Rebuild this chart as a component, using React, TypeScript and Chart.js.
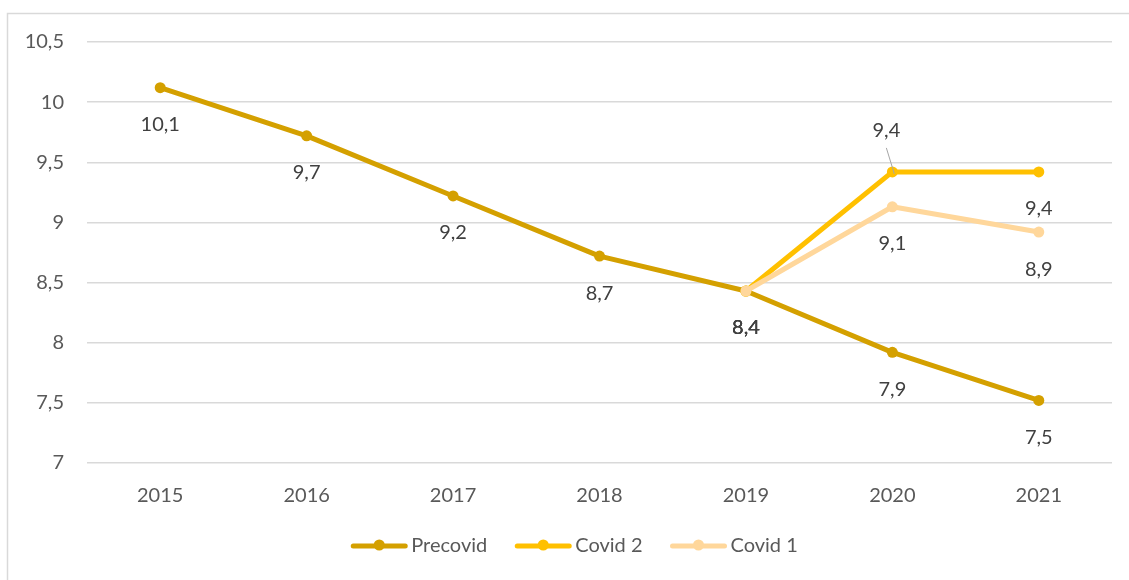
import React, { useEffect, useRef } from "react";
import { Chart, registerables } from "chart.js";

Chart.register(...registerables);

const years = ["2015", "2016", "2017", "2018", "2019", "2020", "2021"];
const precovid = [10.12, 9.72, 9.22, 8.72, 8.43, 7.92, 7.52];
const covid2 = [null, null, null, null, 8.43, 9.42, 9.42];
const covid1 = [null, null, null, null, 8.43, 9.13, 8.92];
const seriesNames = ["Precovid", "Covid 2", "Covid 1"];
const seriesColors = ["#D4A000", "#FFC000", "#FFD79B"];
// label placement per series per point: 1 = below, -1 = above
const labelSides = [
  [1, 1, 1, 1, 1, 1, 1],
  [1, 1, 1, 1, 1, -1, 1],
  [1, 1, 1, 1, 1, 1, 1],
];

const FONT = "Lato, 'Open Sans', sans-serif";
const FS = 20;

const framePlugin = {
  id: "frame",
  beforeDraw(chart: any) {
    const ctx = chart.ctx;
    ctx.save();
    ctx.fillStyle = "#ffffff";
    ctx.fillRect(0, 0, chart.width, chart.height);
    ctx.strokeStyle = "#D9D9D9";
    ctx.lineWidth = 1.5;
    ctx.beginPath();
    ctx.moveTo(7.5, chart.height);
    ctx.lineTo(7.5, 13.5);
    ctx.lineTo(chart.width, 13.5);
    ctx.stroke();
    ctx.restore();
  },
};

const labelPlugin = {
  id: "valueLabels",
  afterDatasetsDraw(chart: any) {
    const ctx = chart.ctx;
    ctx.save();
    ctx.font = `${FS}px ${FONT}`;
    ctx.fillStyle = "#404040";
    ctx.textAlign = "center";
    ctx.textBaseline = "middle";
    chart.data.datasets.forEach((ds: any, di: number) => {
      const meta = chart.getDatasetMeta(di);
      meta.data.forEach((pt: any, i: number) => {
        const v = ds.data[i];
        if (v === null || v === undefined) return;
        const txt = v.toFixed(1).replace(".", ",");
        const side = labelSides[di][i];
        if (side < 0) {
          const lx = pt.x - 6;
          const ly = pt.y - 41;
          ctx.fillText(txt, lx, ly);
          ctx.save();
          ctx.strokeStyle = "#A6A6A6";
          ctx.lineWidth = 1;
          ctx.beginPath();
          ctx.moveTo(lx, ly + 17);
          ctx.lineTo(pt.x + 2, pt.y + 2);
          ctx.stroke();
          ctx.restore();
        } else {
          ctx.fillText(txt, pt.x, pt.y + 37);
        }
      });
    });
    ctx.restore();
  },
};

const legendPlugin = {
  id: "customLegend",
  afterDraw(chart: any) {
    const ctx = chart.ctx;
    ctx.save();
    ctx.font = `${FS}px ${FONT}`;
    ctx.textBaseline = "middle";
    const symW = 56;
    const gapText = 4;
    const gapItem = 28;
    const widths = seriesNames.map((n) => ctx.measureText(n).width);
    let total = 0;
    widths.forEach((w, i) => {
      total += symW + gapText + w + (i < widths.length - 1 ? gapItem : 0);
    });
    let x = 574.5 - total / 2;
    const y = 546;
    seriesNames.forEach((n, i) => {
      ctx.strokeStyle = seriesColors[i];
      ctx.fillStyle = seriesColors[i];
      ctx.lineWidth = 5;
      ctx.lineCap = "round";
      ctx.beginPath();
      ctx.moveTo(x + 2, y);
      ctx.lineTo(x + symW - 2, y);
      ctx.stroke();
      ctx.beginPath();
      ctx.arc(x + symW / 2, y - 1, 5.5, 0, Math.PI * 2);
      ctx.fill();
      ctx.fillStyle = "#595959";
      ctx.fillText(n, x + symW + gapText, y);
      x += symW + gapText + widths[i] + gapItem;
    });
    ctx.restore();
  },
};

export default function App() {
  const ref = useRef<HTMLCanvasElement>(null);
  useEffect(() => {
    if (!ref.current) return;
    const mk = (data: any[], i: number, order: number) => ({
      label: seriesNames[i],
      data,
      order,
      borderColor: seriesColors[i],
      backgroundColor: seriesColors[i],
      borderWidth: 5,
      pointRadius: 5.5,
      pointHoverRadius: 5.5,
      pointBorderWidth: 0,
      borderCapStyle: "round",
      borderJoinStyle: "round",
      tension: 0,
      spanGaps: false,
    });
    const chart = new Chart(ref.current, {
      type: "line",
      data: {
        labels: years,
        datasets: [mk(precovid, 0, 2), mk(covid2, 1, 1), mk(covid1, 2, 0)] as any,
      },
      options: {
        responsive: false,
        animation: false,
        layout: { padding: { left: 0, right: 17, top: 42, bottom: 0 } },
        plugins: {
          legend: { display: false },
          tooltip: { enabled: false },
        },
        scales: {
          x: {
            offset: true,
            grid: { display: false, drawTicks: false },
            border: { display: false },
            ticks: {
              color: "#595959",
              font: { family: FONT, size: FS },
              padding: 21,
            },
            afterFit(scale: any) {
              scale.height = 117;
            },
          },
          y: {
            min: 7,
            max: 10.5,
            grid: { color: "#D9D9D9", lineWidth: 1.5, drawTicks: false },
            border: { display: false },
            ticks: {
              stepSize: 0.5,
              color: "#595959",
              font: { family: FONT, size: FS },
              padding: 23,
              callback: (v: any) => String(v).replace(".", ","),
            },
            afterFit(scale: any) {
              scale.width = 87;
            },
          },
        },
      },
      plugins: [framePlugin, labelPlugin, legendPlugin],
    });
    return () => chart.destroy();
  }, []);
  return (
    <div style={{ position: "absolute", left: 0, top: 0, width: 1129, height: 580 }}>
      <canvas ref={ref} width={1129} height={580} style={{ width: 1129, height: 580 }} />
    </div>
  );
}
